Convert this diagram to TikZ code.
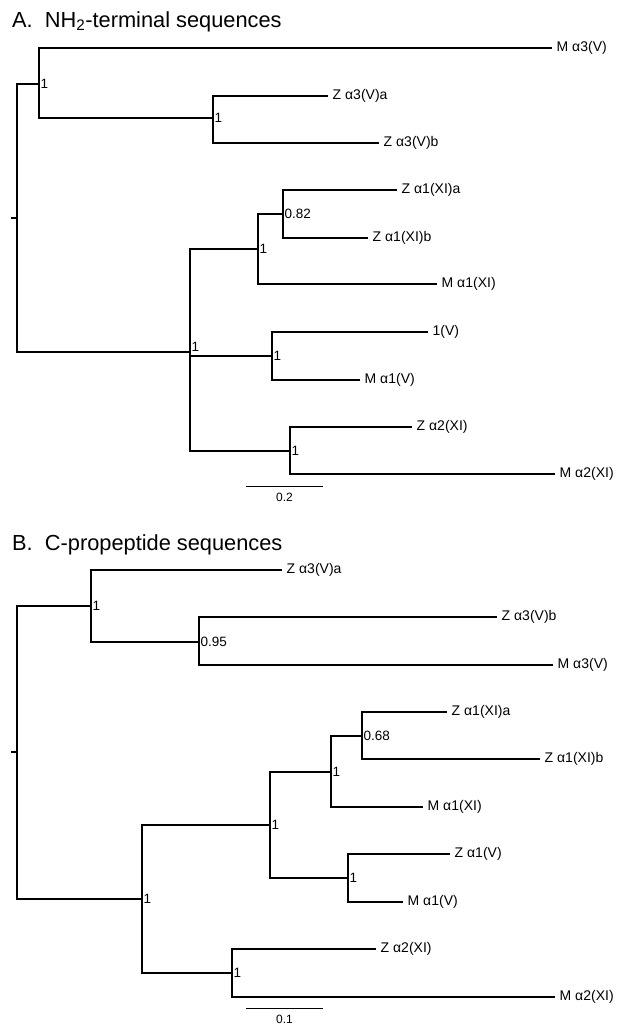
\documentclass[tikz,border=0pt]{standalone}
\usepackage{fontspec}
\setmainfont{Liberation Sans}

\begin{document}
\begin{tikzpicture}[
  x=1pt, y=-1pt,
  branch/.style={line width=1.7pt, draw=black},
  leaf/.style={anchor=west, inner xsep=4.5pt, inner ysep=0pt, font=\fontsize{14}{16}\selectfont},
  support/.style={anchor=west, inner sep=1.5pt, font=\fontsize{13.5}{15}\selectfont},
  heading/.style={anchor=base west, inner sep=0pt, font=\fontsize{21.8}{26}\selectfont},
  scalebar/.style={line width=1pt, draw=black},
  scalelabel/.style={inner sep=0pt, font=\fontsize{12}{14}\selectfont}
]
\useasboundingbox (0,0) rectangle (619,1034);

\node[heading] (titleA) at (12,27) {A.\ \ NH\textsubscript{2}-terminal sequences};
\node[heading] (titleB) at (12,550) {B.\ \ C-propeptide sequences};

\coordinate (tickA) at (11,218);
\coordinate (rootA) at (17,218);
\coordinate (a1) at (39,84);
\coordinate (a2) at (213,118);
\coordinate (a3) at (190,352);
\coordinate (a4) at (258,249);
\coordinate (a5) at (283,214);
\coordinate (a6) at (272,356);
\coordinate (a7) at (290,451);

\node[leaf] (aMa3V) at (552,48) {M α3(V)};
\node[leaf] (aZa3Va) at (328,96) {Z α3(V)a};
\node[leaf] (aZa3Vb) at (379,143) {Z α3(V)b};
\node[leaf] (aZa1XIa) at (397,190) {Z α1(XI)a};
\node[leaf] (aZa1XIb) at (368,238) {Z α1(XI)b};
\node[leaf] (aMa1XI) at (437,284) {M α1(XI)};
\node[leaf] (a1V) at (428,332) {1(V)};
\node[leaf] (aMa1V) at (360,380) {M α1(V)};
\node[leaf] (aZa2XI) at (412,427) {Z α2(XI)};
\node[leaf] (aMa2XI) at (555,474) {M α2(XI)};

\draw[branch] (tickA) -- (rootA);
\draw[branch] (rootA) |- (a1);
\draw[branch] (rootA) |- (a3);
\draw[branch] (a1) |- (aMa3V.west);
\draw[branch] (a1) |- (a2);
\draw[branch] (a2) |- (aZa3Va.west);
\draw[branch] (a2) |- (aZa3Vb.west);
\draw[branch] (a3) |- (a4);
\draw[branch] (a3) |- (a6);
\draw[branch] (a3) |- (a7);
\draw[branch] (a4) |- (a5);
\draw[branch] (a4) |- (aMa1XI.west);
\draw[branch] (a5) |- (aZa1XIa.west);
\draw[branch] (a5) |- (aZa1XIb.west);
\draw[branch] (a6) |- (a1V.west);
\draw[branch] (a6) |- (aMa1V.west);
\draw[branch] (a7) |- (aZa2XI.west);
\draw[branch] (a7) |- (aMa2XI.west);

\node[support] (sa1) at (a1) {1};
\node[support] (sa2) at (a2) {1};
\node[support, anchor=south west, inner ysep=0.5pt] (sa3) at (a3) {1};
\node[support] (sa4) at (a4) {1};
\node[support] (sa5) at (a5) {0.82};
\node[support] (sa6) at (a6) {1};
\node[support] (sa7) at (a7) {1};

\coordinate (barA1) at (246,486);
\coordinate (barA2) at (323,486);
\draw[scalebar] (barA1) -- (barA2);
\node[scalelabel] (barAlabel) at (284.5,497.5) {0.2};

\coordinate (tickB) at (11,752);
\coordinate (rootB) at (17,752);
\coordinate (b1) at (91,606);
\coordinate (b2) at (199,642);
\coordinate (b3) at (142,899);
\coordinate (b4) at (331,772);
\coordinate (b5) at (362,736);
\coordinate (b6) at (348,878);
\coordinate (b7) at (232,973);
\coordinate (b8) at (270,825);

\node[leaf] (bZa3Va) at (282,570) {Z α3(V)a};
\node[leaf] (bZa3Vb) at (497,617) {Z α3(V)b};
\node[leaf] (bMa3V) at (553,665) {M α3(V)};
\node[leaf] (bZa1XIa) at (447,712) {Z α1(XI)a};
\node[leaf] (bZa1XIb) at (540,759) {Z α1(XI)b};
\node[leaf] (bMa1XI) at (423,807) {M α1(XI)};
\node[leaf] (bZa1V) at (450,854) {Z α1(V)};
\node[leaf] (bMa1V) at (403,902) {M α1(V)};
\node[leaf] (bZa2XI) at (376,949) {Z α2(XI)};
\node[leaf] (bMa2XI) at (555,997) {M α2(XI)};

\draw[branch] (tickB) -- (rootB);
\draw[branch] (rootB) |- (b1);
\draw[branch] (rootB) |- (b3);
\draw[branch] (b1) |- (bZa3Va.west);
\draw[branch] (b1) |- (b2);
\draw[branch] (b2) |- (bZa3Vb.west);
\draw[branch] (b2) |- (bMa3V.west);
\draw[branch] (b3) |- (b8);
\draw[branch] (b3) |- (b7);
\draw[branch] (b8) |- (b4);
\draw[branch] (b8) |- (b6);
\draw[branch] (b4) |- (b5);
\draw[branch] (b4) |- (bMa1XI.west);
\draw[branch] (b5) |- (bZa1XIa.west);
\draw[branch] (b5) |- (bZa1XIb.west);
\draw[branch] (b6) |- (bZa1V.west);
\draw[branch] (b6) |- (bMa1V.west);
\draw[branch] (b7) |- (bZa2XI.west);
\draw[branch] (b7) |- (bMa2XI.west);

\node[support] (sb1) at (b1) {1};
\node[support] (sb2) at (b2) {0.95};
\node[support] (sb3) at (b3) {1};
\node[support] (sb4) at (b4) {1};
\node[support] (sb5) at (b5) {0.68};
\node[support] (sb6) at (b6) {1};
\node[support] (sb7) at (b7) {1};
\node[support] (sb8) at (b8) {1};

\coordinate (barB1) at (246,1008);
\coordinate (barB2) at (323,1008);
\draw[scalebar] (barB1) -- (barB2);
\node[scalelabel] (barBlabel) at (284.5,1019) {0.1};
\end{tikzpicture}
\end{document}
